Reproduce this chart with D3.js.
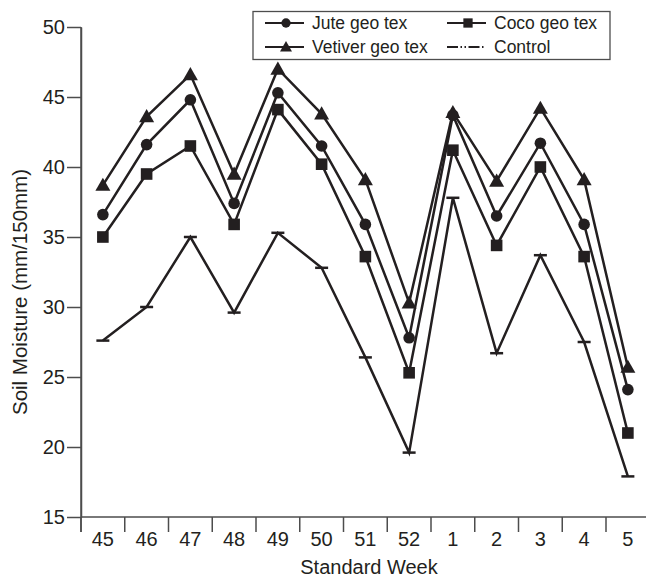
<!DOCTYPE html>
<html>
<head>
<meta charset="utf-8">
<script src="https://cdn.jsdelivr.net/npm/d3@7"></script>
<style>
  html, body { margin: 0; padding: 0; background: #fff; }
  svg { display: block; font-family: "Liberation Sans", Arial, sans-serif; }
</style>
</head>
<body>
<svg id="chart" width="646" height="578"></svg>
<script>
// Standard weeks (Nov–Jan) and soil moisture readings, mm per 150 mm depth
const weeks = ["45", "46", "47", "48", "49", "50", "51", "52", "1", "2", "3", "4", "5"];
const jute    = [36.6, 41.6, 44.8, 37.4, 45.3, 41.5, 35.9, 27.8, 43.7, 36.5, 41.7, 35.9, 24.1];
const coco    = [35.0, 39.5, 41.5, 35.9, 44.1, 40.2, 33.6, 25.3, 41.2, 34.4, 40.0, 33.6, 21.0];
const vetiver = [38.7, 43.6, 46.6, 39.5, 47.0, 43.8, 39.1, 30.3, 43.9, 39.0, 44.2, 39.1, 25.7];
const control = [27.6, 30.0, 35.0, 29.6, 35.3, 32.8, 26.4, 19.6, 37.8, 26.7, 33.7, 27.5, 17.9];
const yTicks  = [15, 20, 25, 30, 35, 40, 45, 50];

const series = [
  { name: "Jute geo tex",    values: jute,    marker: "circle" },
  { name: "Coco geo tex",    values: coco,    marker: "square" },
  { name: "Vetiver geo tex", values: vetiver, marker: "triangle" },
  { name: "Control",         values: control, marker: "dash" }
];

const ink = "#231f20";
const axisInk = "#4d4d4d";
const fontSize = 20;
const svg = d3.select("#chart");

const plotLeft = 81, plotTop = 27, plotBottom = 517;
const band = 43.75;

const x = d3.scaleBand().domain(weeks).range([plotLeft, plotLeft + band * weeks.length]).padding(0);
const y = d3.scaleLinear().domain([15, 50]).range([plotBottom, plotTop]);

// Y axis
const yAxis = svg.append("g")
  .attr("transform", `translate(${plotLeft},0)`)
  .call(d3.axisLeft(y).tickValues(yTicks).tickSize(14).tickPadding(2).tickSizeOuter(0));
yAxis.select(".domain").attr("stroke", axisInk).attr("stroke-width", 1.5);
yAxis.selectAll(".tick line").attr("stroke", axisInk).attr("stroke-width", 1.5);
yAxis.selectAll(".tick text").attr("fill", ink).attr("font-size", fontSize)
  .attr("font-family", "Liberation Sans, Arial, sans-serif");

// X axis: labels centred in each week band, ticks at band boundaries
svg.append("line")
  .attr("x1", plotLeft).attr("x2", 646).attr("y1", plotBottom).attr("y2", plotBottom)
  .attr("stroke", axisInk).attr("stroke-width", 1.5);
svg.append("line")
  .attr("x1", plotLeft).attr("x2", plotLeft).attr("y1", plotTop).attr("y2", plotBottom + 15)
  .attr("stroke", axisInk).attr("stroke-width", 1.5);

const xAxis = svg.append("g")
  .attr("transform", `translate(0,${plotBottom})`)
  .call(d3.axisBottom(x).tickSize(0).tickPadding(15).tickSizeOuter(0));
xAxis.select(".domain").remove();
xAxis.selectAll(".tick text").attr("fill", ink).attr("font-size", fontSize)
  .attr("font-family", "Liberation Sans, Arial, sans-serif");

svg.append("g").selectAll("line")
  .data(weeks)
  .join("line")
  .attr("x1", d => x(d)).attr("x2", d => x(d))
  .attr("y1", plotBottom).attr("y2", plotBottom + 15)
  .attr("stroke", axisInk).attr("stroke-width", 1.5);

// Axis titles
svg.append("text")
  .attr("x", 369).attr("y", 574)
  .attr("text-anchor", "middle")
  .attr("fill", ink).attr("font-size", fontSize)
  .text("Standard Week");

svg.append("text")
  .attr("transform", "translate(27,292) rotate(-90)")
  .attr("text-anchor", "middle")
  .attr("fill", ink).attr("font-size", 20.5)
  .text("Soil Moisture (mm/150mm)");

// Marker drawing
function drawMarker(g, type, cx, cy, k = 1) {
  if (type === "circle") {
    g.append("circle").attr("cx", cx).attr("cy", cy).attr("r", 5.8 * k).attr("fill", ink);
  } else if (type === "square") {
    const h = 5.8 * k;
    g.append("rect").attr("x", cx - h).attr("y", cy - h)
      .attr("width", 2 * h).attr("height", 2 * h).attr("fill", ink);
  } else if (type === "triangle") {
    const s = 7.5 * k;
    g.append("path")
      .attr("d", `M${cx},${cy - s}L${cx + s},${cy + s * 0.75}L${cx - s},${cy + s * 0.75}Z`)
      .attr("fill", ink);
  } else if (type === "dash") {
    g.append("line").attr("x1", cx - 6.5).attr("x2", cx + 6.5)
      .attr("y1", cy).attr("y2", cy)
      .attr("stroke", ink).attr("stroke-width", 2.5);
  }
}

const cxOf = d => x(d) + x.bandwidth() / 2;
const line = d3.line().x((v, i) => cxOf(weeks[i])).y(v => y(v));

series.forEach(s => {
  const g = svg.append("g");
  g.append("path")
    .attr("d", line(s.values))
    .attr("fill", "none")
    .attr("stroke", ink)
    .attr("stroke-width", 2.5)
    .attr("stroke-linejoin", "miter");
  s.values.forEach((v, i) => drawMarker(g, s.marker, cxOf(weeks[i]), y(v)));
});

// Legend
const lg = svg.append("g");
lg.append("rect")
  .attr("x", 253).attr("y", 11.5).attr("width", 357).attr("height", 48)
  .attr("fill", "#fff").attr("stroke", axisInk).attr("stroke-width", 1.3);

const legendPos = [
  { s: series[0], lx: 265, ly: 23 },
  { s: series[1], lx: 447, ly: 23 },
  { s: series[2], lx: 265, ly: 47 },
  { s: series[3], lx: 447, ly: 47 }
];
legendPos.forEach(p => {
  const ln = lg.append("line")
    .attr("x1", p.lx).attr("x2", p.lx + 39)
    .attr("y1", p.ly).attr("y2", p.ly)
    .attr("stroke", ink).attr("stroke-width", 2.2);
  if (p.s.marker === "dash") {
    ln.attr("x2", p.lx + 38)
      .attr("stroke-dasharray", "11,2.5,1.5,2.5,1.5,2.5,11,2.5,1.5,10");
  } else {
    drawMarker(lg, p.s.marker, p.lx + 21, p.ly, 0.8);
  }
  lg.append("text")
    .attr("x", p.s.marker === "circle" || p.s.marker === "triangle" ? 312 : 494)
    .attr("y", p.ly)
    .attr("dy", "0.35em")
    .attr("fill", ink).attr("font-size", 17.5)
    .text(p.s.name);
});
</script>
</body>
</html>
